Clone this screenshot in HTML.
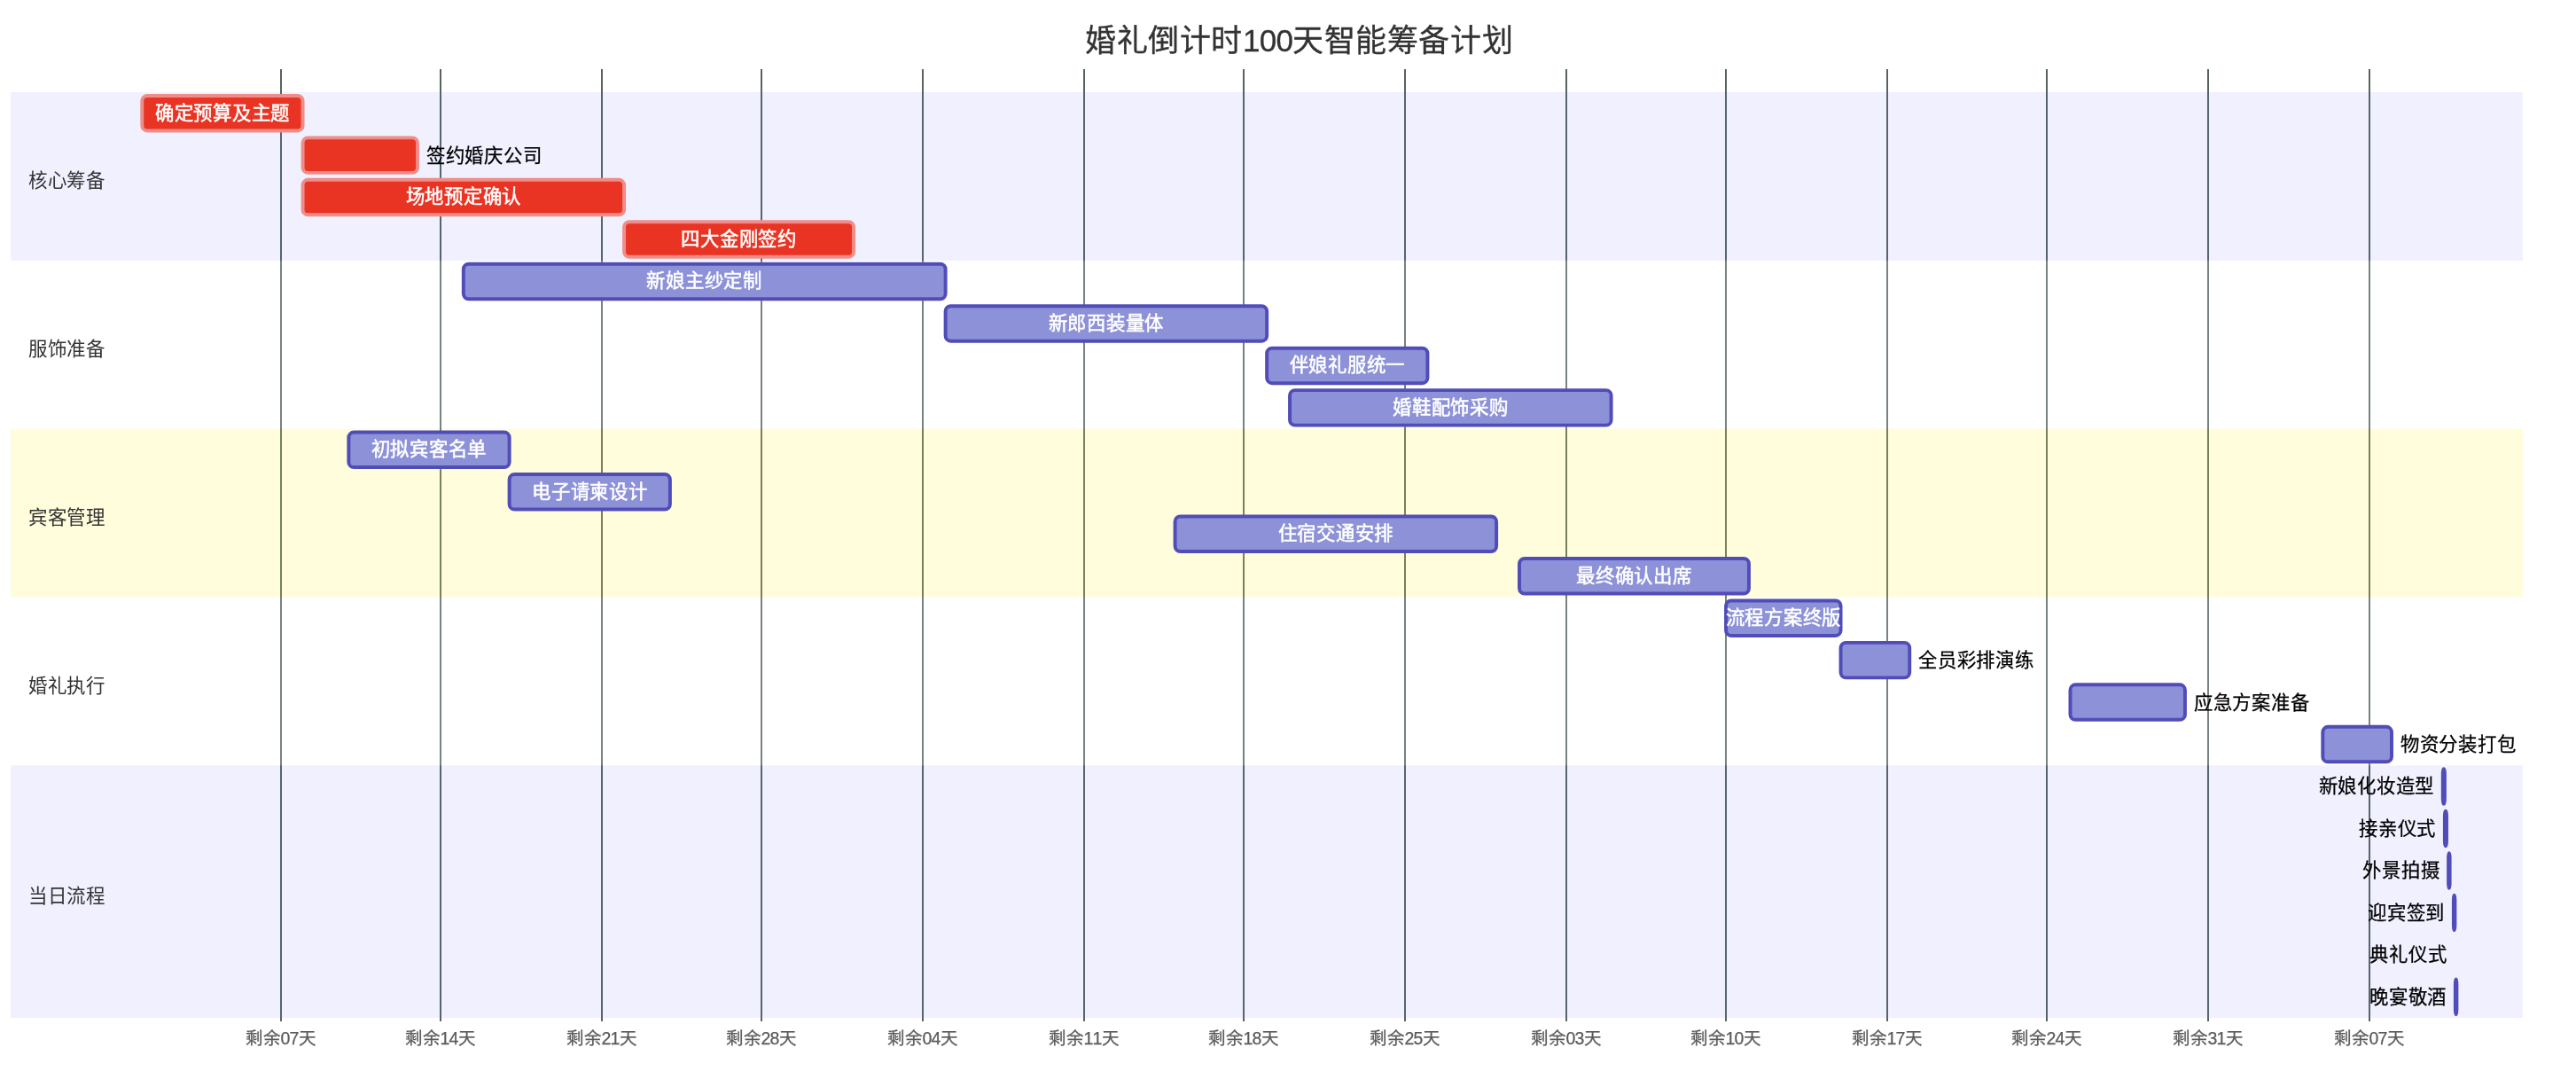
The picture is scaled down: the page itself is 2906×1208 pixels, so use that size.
<!DOCTYPE html>
<html lang="zh-CN"><head><meta charset="utf-8"><title>婚礼倒计时100天智能筹备计划</title>
<style>
html,body{margin:0;padding:0;background:#fff;}
body{width:2906px;height:1208px;font-family:"Liberation Sans",sans-serif;}
svg{display:block;font-family:"Liberation Sans",sans-serif;}
.grid line{stroke:#57645b;stroke-width:2;shape-rendering:crispEdges;}
.tick{font-size:19.5px;letter-spacing:-0.2px;fill:#5a5a5a;stroke:#5a5a5a;stroke-width:0.25px;text-anchor:middle;}
.d{letter-spacing:-0.65px;font-kerning:none;}
.t{font-size:21.4px;letter-spacing:0.75px;}
.in{fill:#fff;stroke:#fff;stroke-width:0.5px;text-anchor:middle;}
.rt{fill:#000;stroke:#000;stroke-width:0.25px;text-anchor:start;}
.lt{fill:#000;stroke:#000;stroke-width:0.25px;text-anchor:end;}
.sec{font-size:21.5px;letter-spacing:-0.25px;fill:#333;text-anchor:start;}
.task{fill:#8c91d8;stroke:#514db8;stroke-width:3.96;}
.crit{fill:#e93323;stroke:#ee8d89;stroke-width:3.96;}
.title{font-size:35px;letter-spacing:0.6px;fill:#333;stroke:#333;stroke-width:0.3px;text-anchor:middle;}
#wrap{will-change:transform;width:2906px;height:1208px;}
</style></head><body><div id="wrap">
<svg width="2906" height="1208" viewBox="0 0 2906 1208">
<rect x="0" y="0" width="2906" height="1208" fill="#ffffff"/>
<g class="grid">
<line x1="317" y1="78" x2="317" y2="1152"/>
<line x1="497" y1="78" x2="497" y2="1152"/>
<line x1="679" y1="78" x2="679" y2="1152"/>
<line x1="859" y1="78" x2="859" y2="1152"/>
<line x1="1041" y1="78" x2="1041" y2="1152"/>
<line x1="1223" y1="78" x2="1223" y2="1152"/>
<line x1="1403" y1="78" x2="1403" y2="1152"/>
<line x1="1585" y1="78" x2="1585" y2="1152"/>
<line x1="1767" y1="78" x2="1767" y2="1152"/>
<line x1="1947" y1="78" x2="1947" y2="1152"/>
<line x1="2129" y1="78" x2="2129" y2="1152"/>
<line x1="2309" y1="78" x2="2309" y2="1152"/>
<line x1="2491" y1="78" x2="2491" y2="1152"/>
<line x1="2673" y1="78" x2="2673" y2="1152"/>
<text class="tick" x="316.7" y="1178.0">剩余<tspan class="d">07</tspan>天</text>
<text class="tick" x="496.7" y="1178.0">剩余<tspan class="d">14</tspan>天</text>
<text class="tick" x="678.7" y="1178.0">剩余<tspan class="d">21</tspan>天</text>
<text class="tick" x="858.7" y="1178.0">剩余<tspan class="d">28</tspan>天</text>
<text class="tick" x="1040.7" y="1178.0">剩余<tspan class="d">04</tspan>天</text>
<text class="tick" x="1222.7" y="1178.0">剩余<tspan class="d">11</tspan>天</text>
<text class="tick" x="1402.7" y="1178.0">剩余<tspan class="d">18</tspan>天</text>
<text class="tick" x="1584.7" y="1178.0">剩余<tspan class="d">25</tspan>天</text>
<text class="tick" x="1766.7" y="1178.0">剩余<tspan class="d">03</tspan>天</text>
<text class="tick" x="1946.7" y="1178.0">剩余<tspan class="d">10</tspan>天</text>
<text class="tick" x="2128.7" y="1178.0">剩余<tspan class="d">17</tspan>天</text>
<text class="tick" x="2308.7" y="1178.0">剩余<tspan class="d">24</tspan>天</text>
<text class="tick" x="2490.7" y="1178.0">剩余<tspan class="d">31</tspan>天</text>
<text class="tick" x="2672.7" y="1178.0">剩余<tspan class="d">07</tspan>天</text>
</g>
<g>
<rect x="12.1" y="104.00" width="2833.8" height="189.84" fill="#6666ff" fill-opacity="0.098"/>
<rect x="12.1" y="293.84" width="2833.8" height="189.84" fill="#ffffff" fill-opacity="0.2"/>
<rect x="12.1" y="483.68" width="2833.8" height="189.84" fill="#fff450" fill-opacity="0.2"/>
<rect x="12.1" y="673.52" width="2833.8" height="189.84" fill="#ffffff" fill-opacity="0.2"/>
<rect x="12.1" y="863.36" width="2833.8" height="284.76" fill="#6666ff" fill-opacity="0.098"/>
</g>
<g>
<rect class="crit" x="160.30" y="107.90" width="181.26" height="39.5" rx="5.9" ry="5.9"/>
<rect class="crit" x="341.56" y="155.36" width="129.48" height="39.5" rx="5.9" ry="5.9"/>
<rect class="crit" x="341.56" y="202.82" width="362.53" height="39.5" rx="5.9" ry="5.9"/>
<rect class="crit" x="704.10" y="250.28" width="258.95" height="39.5" rx="5.9" ry="5.9"/>
<rect class="task" x="522.83" y="297.74" width="543.80" height="39.5" rx="5.9" ry="5.9"/>
<rect class="task" x="1066.62" y="345.20" width="362.53" height="39.5" rx="5.9" ry="5.9"/>
<rect class="task" x="1429.15" y="392.66" width="181.26" height="39.5" rx="5.9" ry="5.9"/>
<rect class="task" x="1455.05" y="440.12" width="362.53" height="39.5" rx="5.9" ry="5.9"/>
<rect class="task" x="393.36" y="487.58" width="181.26" height="39.5" rx="5.9" ry="5.9"/>
<rect class="task" x="574.62" y="535.04" width="181.26" height="39.5" rx="5.9" ry="5.9"/>
<rect class="task" x="1325.58" y="582.50" width="362.53" height="39.5" rx="5.9" ry="5.9"/>
<rect class="task" x="1714.00" y="629.96" width="258.95" height="39.5" rx="5.9" ry="5.9"/>
<rect class="task" x="1947.05" y="677.42" width="129.48" height="39.5" rx="5.9" ry="5.9"/>
<rect class="task" x="2076.53" y="724.88" width="77.68" height="39.5" rx="5.9" ry="5.9"/>
<rect class="task" x="2335.48" y="772.34" width="129.47" height="39.5" rx="5.9" ry="5.9"/>
<rect class="task" x="2620.33" y="819.80" width="77.68" height="39.5" rx="5.9" ry="5.9"/>
<rect class="task" x="2755.80" y="867.26" width="2.10" height="39.5" rx="5.9" ry="5.9"/>
<rect class="task" x="2757.90" y="914.72" width="2.10" height="39.5" rx="5.9" ry="5.9"/>
<rect class="task" x="2762.10" y="962.18" width="1.50" height="39.5" rx="5.9" ry="5.9"/>
<rect class="task" x="2767.90" y="1009.64" width="1.50" height="39.5" rx="5.9" ry="5.9"/>
<rect class="task" x="2769.90" y="1104.56" width="1.50" height="39.5" rx="5.9" ry="5.9"/>
</g>
<g>
<text class="t in" x="250.93" y="134.50">确定预算及主题</text>
<text class="t rt" x="480.93" y="182.56">签约婚庆公司</text>
<text class="t in" x="522.83" y="229.42">场地预定确认</text>
<text class="t in" x="833.57" y="276.88">四大金刚签约</text>
<text class="t in" x="794.73" y="324.34">新娘主纱定制</text>
<text class="t in" x="1247.89" y="371.80">新郎西装量体</text>
<text class="t in" x="1519.79" y="419.26">伴娘礼服统一</text>
<text class="t in" x="1636.32" y="466.72">婚鞋配饰采购</text>
<text class="t in" x="483.99" y="514.18">初拟宾客名单</text>
<text class="t in" x="665.25" y="561.64">电子请柬设计</text>
<text class="t in" x="1506.84" y="609.10">住宿交通安排</text>
<text class="t in" x="1843.47" y="656.56">最终确认出席</text>
<text class="t in" x="2011.79" y="704.02">流程方案终版</text>
<text class="t rt" x="2164.10" y="752.08">全员彩排演练</text>
<text class="t rt" x="2474.84" y="799.54">应急方案准备</text>
<text class="t rt" x="2707.90" y="847.00">物资分装打包</text>
<text class="t lt" x="2746.01" y="894.46">新娘化妆造型</text>
<text class="t lt" x="2748.11" y="941.92">接亲仪式</text>
<text class="t lt" x="2752.31" y="989.38">外景拍摄</text>
<text class="t lt" x="2758.11" y="1036.84">迎宾签到</text>
<text class="t lt" x="2760.41" y="1084.30">典礼仪式</text>
<text class="t lt" x="2760.11" y="1131.76">晚宴敬酒</text>
</g>
<g>
<text class="sec" x="31.9" y="211.22">核心筹备</text>
<text class="sec" x="31.9" y="401.06">服饰准备</text>
<text class="sec" x="31.9" y="590.90">宾客管理</text>
<text class="sec" x="31.9" y="780.74">婚礼执行</text>
<text class="sec" x="31.9" y="1018.04">当日流程</text>
</g>
<text class="title" x="1465.7" y="58.1">婚礼倒计时<tspan letter-spacing="-0.8">100</tspan>天智能筹备计划</text>
</svg></div></body></html>
